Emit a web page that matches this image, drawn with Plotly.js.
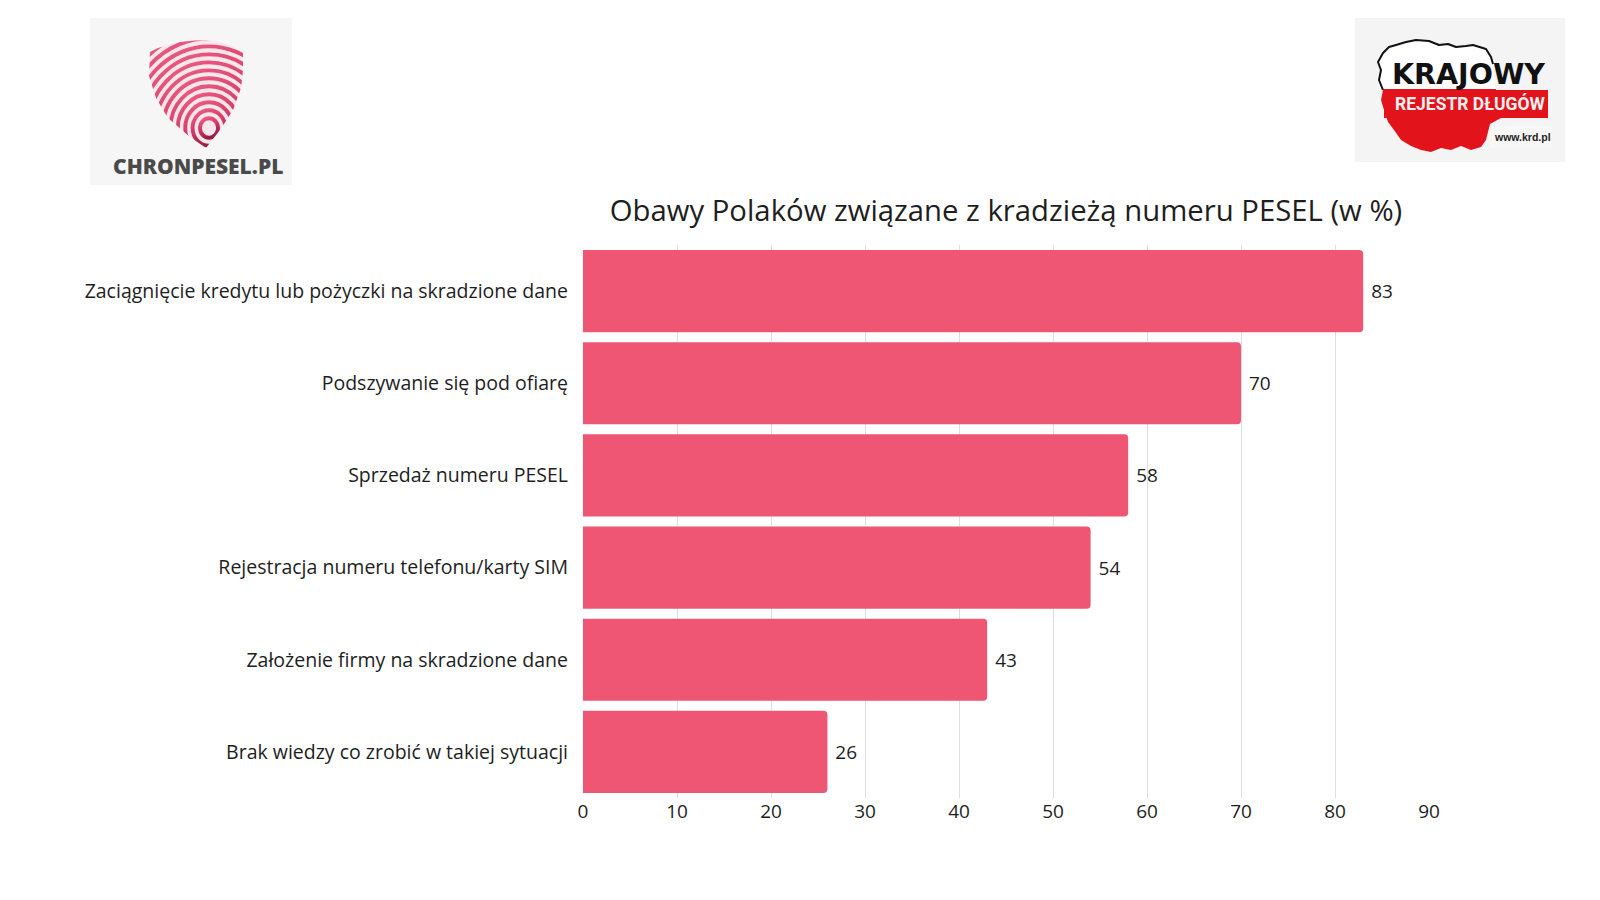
<!DOCTYPE html>
<html>
<head>
<meta charset="utf-8">
<script src="https://cdn.plot.ly/plotly-3.0.1.min.js"></script>
<style>html,body{margin:0;padding:0;background:#fff;}#chart{width:1600px;height:900px;}</style>
</head>
<body>
<div id="chart"></div>
<script>
// ---- data ----
const categories = [
  "Zaciągnięcie kredytu lub pożyczki na skradzione dane",
  "Podszywanie się pod ofiarę",
  "Sprzedaż numeru PESEL",
  "Rejestracja numeru telefonu/karty SIM",
  "Założenie firmy na skradzione dane",
  "Brak wiedzy co zrobić w takiej sytuacji"
];
const values = [83, 70, 58, 54, 43, 26];
const xTicks = [0, 10, 20, 30, 40, 50, 60, 70, 80, 90];
const chartTitle = "Obawy Polaków związane z kradzieżą numeru PESEL (w %)";
const leftLogoText = "CHRONPESEL.PL";
const rightLogoTop = "KRAJOWY";
const rightLogoBand = "REJESTR DŁUGÓW";
const rightLogoUrl = "www.krd.pl";

// ---- layout geometry ----
const W = 1600, H = 900;
const M = {l: 583, r: 171, t: 245, b: 102};
const PW = W - M.l - M.r, PH = H - M.t - M.b;
const px = x => (x - M.l) / PW;
const py = y => (H - M.b - y) / PH;

// ---- logo graphics (decorative, as SVG) ----
function svgUri(s){ return "data:image/svg+xml;charset=utf-8," + encodeURIComponent(s); }

// left logo: fingerprint shield, box origin (140,36) size 110x120
const sx0 = 140, sy0 = 36;
const shieldPts = [[150,52],[158,48],[165,46],[180,42],[195,40.5],[207,40.5],[222,42.5],[234,47],[243,53],[243,70],[241,88],[233,110],[220,130],[206,148],[190,137],[168,118],[156,98],[149,76]];
const shieldPath = "M" + shieldPts.map(p => (p[0]-sx0)+","+(p[1]-sy0)).join(" L") + " Z";
let rings = "";
for (let r = 9; r < 130; r += 7.4) {
  rings += `<ellipse cx="${209-sx0}" cy="${128-sy0}" rx="${r}" ry="${r*1.08}" fill="none" stroke="url(#g)" stroke-width="3.9"/>`;
}
const shieldSvg = `<svg xmlns="http://www.w3.org/2000/svg" width="110" height="120" viewBox="0 0 110 120">
<defs><linearGradient id="g" x1="0" y1="0" x2="0.4" y2="1"><stop offset="0" stop-color="#ee6088"/><stop offset="0.5" stop-color="#d23c68"/><stop offset="1" stop-color="#9c1c48"/></linearGradient>
<clipPath id="c"><path d="${shieldPath}"/></clipPath></defs>
<path d="${shieldPath}" fill="#fbe6ec"/>
<g clip-path="url(#c)">${rings}</g></svg>`;

// right logo: map of Poland, box origin (1370,35) size 190x125
const mx0 = 1370, my0 = 35;
const dx = -4;
const mapPts = [[1387,53],[1393,47],[1400,45],[1410,42],[1420,40],[1433,41],[1443,45],[1452,44],[1460,47],[1470,46],[1477,45],[1490,49],[1495,57],[1497,66],[1500,90],[1505,118],[1494,124],[1490,140],[1485,147],[1475,150],[1465,146],[1455,150],[1445,148],[1435,152],[1425,150],[1415,146],[1405,140],[1398,130],[1392,122],[1388,110],[1385,100],[1387,90],[1383,80],[1385,70],[1382,62]];
const mapPath = "M" + mapPts.map(p => (p[0]+dx-mx0)+","+(p[1]-my0)).join(" L") + " Z";
const outlinePts = [[1387,90],[1383,80],[1385,70],[1382,62],[1387,53],[1393,47],[1400,45],[1410,42],[1420,40],[1433,41],[1443,45],[1452,44],[1460,47],[1470,46],[1477,45],[1490,49],[1495,57],[1497,64]];
const outlinePath = "M" + outlinePts.map(p => (p[0]+dx-mx0)+","+(p[1]-my0)).join(" L");
const mapSvg = `<svg xmlns="http://www.w3.org/2000/svg" width="190" height="125" viewBox="0 0 190 125">
<defs><clipPath id="m"><path d="${mapPath}"/></clipPath></defs>
<path d="${mapPath}" fill="#ffffff"/>
<path d="${outlinePath}" fill="none" stroke="#111" stroke-width="2" stroke-linejoin="round"/>
<rect x="0" y="${89-my0}" width="190" height="80" fill="#e3131b" clip-path="url(#m)"/>
<rect x="${1384-mx0}" y="${90-my0}" width="${1548-1384}" height="28" fill="#e3131b"/>
<rect x="${1490-mx0}" y="${126-my0}" width="${1552-1490}" height="22" fill="#f7f7f7"/>
</svg>`;

const images = [
  {source: svgUri(shieldSvg), xref:"paper", yref:"paper", x: px(sx0), y: py(sy0), sizex: 110/PW, sizey: 120/PH, xanchor:"left", yanchor:"top", sizing:"stretch", layer:"above"},
  {source: svgUri(mapSvg), xref:"paper", yref:"paper", x: px(mx0), y: py(my0), sizex: 190/PW, sizey: 125/PH, xanchor:"left", yanchor:"top", sizing:"stretch", layer:"above"}
];

const shapes = [
  {type:"rect", xref:"paper", yref:"paper", x0: px(90), x1: px(292), y0: py(18), y1: py(185), fillcolor:"#f6f6f6", line:{width:0}, layer:"below"},
  {type:"rect", xref:"paper", yref:"paper", x0: px(1355), x1: px(1565), y0: py(18), y1: py(162), fillcolor:"#f4f4f4", line:{width:0}, layer:"below"}
];

const annotations = [
  {text: leftLogoText, xref:"paper", yref:"paper", x: px(198), y: py(166), showarrow:false, xanchor:"center", yanchor:"middle",
   font:{family:"Open Sans", size:21, color:"#4a4a4a", weight:800}},
  {text: rightLogoTop, xref:"paper", yref:"paper", x: px(1468), y: py(74), showarrow:false, xanchor:"center", yanchor:"middle",
   font:{family:"DejaVu Sans", size:28.5, color:"#111", weight:700}},
  {text: rightLogoBand, xref:"paper", yref:"paper", x: px(1470), y: py(104), showarrow:false, xanchor:"center", yanchor:"middle",
   font:{family:"Roboto", size:17.5, color:"#f4f0f0", weight:700}},
  {text: rightLogoUrl, xref:"paper", yref:"paper", x: px(1522), y: py(137), showarrow:false, xanchor:"center", yanchor:"middle",
   font:{family:"Liberation Sans", size:10.5, color:"#222", weight:700}}
];

const trace = {
  type: "bar",
  orientation: "h",
  y: categories,
  x: values,
  text: values.map(v => " " + v),
  textposition: "outside",
  textfont: {family: "Open Sans", size: 19, color: "#1e1e1e"},
  cliponaxis: false,
  marker: {color: "#ef5673", line: {width: 0}},
  hoverinfo: "none"
};

const layout = {
  width: W, height: H,
  margin: M,
  paper_bgcolor: "#ffffff",
  plot_bgcolor: "#ffffff",
  font: {family: "Open Sans", color: "#1e1e1e"},
  bargap: 0.108,
  barcornerradius: 4,
  showlegend: false,
  title: {
    text: chartTitle,
    xref: "container", yref: "container",
    x: 1006 / W, y: 1 - 211 / H,
    xanchor: "center", yanchor: "middle",
    font: {family: "Open Sans", size: 29.3, color: "#1e1e1e"}
  },
  xaxis: {
    range: [0, 90],
    tickvals: xTicks,
    ticktext: xTicks.map(String),
    showgrid: true,
    gridcolor: "#dedede",
    gridwidth: 1,
    zeroline: false,
    showline: false,
    ticks: "",
    tickfont: {family: "Open Sans", size: 19, color: "#1e1e1e"},
    fixedrange: true
  },
  yaxis: {
    autorange: "reversed",
    showgrid: false,
    zeroline: false,
    showline: false,
    ticks: "",
    ticklabelstandoff: 14,
    tickfont: {family: "Open Sans", size: 19.5, color: "#1e1e1e"},
    fixedrange: true
  },
  shapes: shapes,
  images: images,
  annotations: annotations
};

Plotly.newPlot("chart", [trace], layout, {displayModeBar: false, staticPlot: true});
</script>
</body>
</html>
